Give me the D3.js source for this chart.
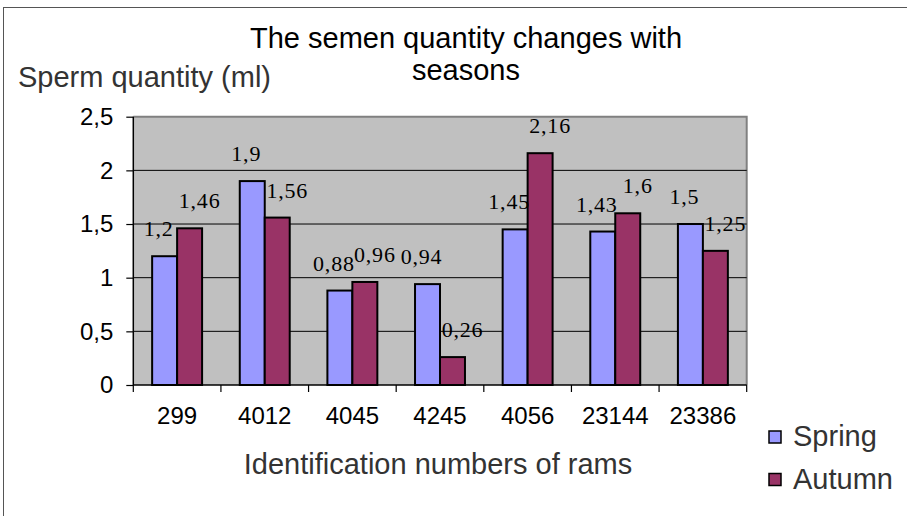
<!DOCTYPE html>
<html>
<head>
<meta charset="utf-8">
<script src="https://cdn.jsdelivr.net/npm/d3@7"></script>
<style>
  html, body { margin: 0; padding: 0; background: #fff; }
  svg { display: block; }
</style>
</head>
<body>
<svg id="chart" width="907" height="516"></svg>
<script>
const categories = ["299", "4012", "4045", "4245", "4056", "23144", "23386"];
const spring = [1.2, 1.9, 0.88, 0.94, 1.45, 1.43, 1.5];
const autumn = [1.46, 1.56, 0.96, 0.26, 2.16, 1.6, 1.25];
const seriesNames = ["Spring", "Autumn"];
const yTicks = [0, 0.5, 1, 1.5, 2, 2.5];
const yTickLabels = ["0", "0,5", "1", "1,5", "2", "2,5"];

(function () {
const colors = { Spring: "#9999ff", Autumn: "#993366" };
const sans = "'Liberation Sans', Arial, sans-serif";
const serif = "'Liberation Serif', 'Times New Roman', serif";

const svg = d3.select("#chart");
const pLeft = 133.3, pRight = 746.7, pTop = 116.7, pBottom = 385;

// outer frame
svg.append("rect").attr("x", 3.5).attr("y", 7.5).attr("width", 920).attr("height", 520)
  .attr("fill", "none").attr("stroke", "#555").attr("stroke-width", 1);

const x0 = d3.scaleBand().domain(categories).range([pLeft, pRight])
  .paddingInner(0.43).paddingOuter(0.215);
const x1 = d3.scaleBand().domain(seriesNames).range([0, x0.bandwidth()]);
const y = d3.scaleLinear().domain([0, 2.5]).range([pBottom, pTop]);

// plot area
svg.append("rect").attr("x", pLeft).attr("y", pTop).attr("width", pRight - pLeft).attr("height", pBottom - pTop)
  .attr("fill", "#c0c0c0");
svg.append("path").attr("d", `M${pLeft},${pTop}H${pRight}V${pBottom}`)
  .attr("fill", "none").attr("stroke", "#808080").attr("stroke-width", 2);

// gridlines
svg.append("g").selectAll("line").data(yTicks.filter(v => v > 0 && v < 2.5)).join("line")
  .attr("x1", pLeft).attr("x2", pRight).attr("y1", d => y(d)).attr("y2", d => y(d))
  .attr("stroke", "#000").attr("stroke-width", 1);

// bars
const rows = categories.map((c, i) => ({ cat: c, values: [
  { s: "Spring", v: spring[i] }, { s: "Autumn", v: autumn[i] } ] }));

const groups = svg.append("g").selectAll("g").data(rows).join("g")
  .attr("transform", d => `translate(${x0(d.cat)},0)`);
groups.selectAll("rect").data(d => d.values).join("rect")
  .attr("x", d => x1(d.s)).attr("width", x1.bandwidth())
  .attr("y", d => y(d.v)).attr("height", d => y(0) - y(d.v))
  .attr("fill", d => colors[d.s]).attr("stroke", "#000").attr("stroke-width", 2);

// data labels
groups.selectAll("text").data(d => d.values).join("text")
  .attr("x", d => x1(d.s) + x1.bandwidth() / 2 + (d.s === "Spring" ? -6 : 10))
  .attr("y", d => y(d.v) - 20)
  .attr("text-anchor", "middle")
  .attr("font-family", serif).attr("font-size", 22).attr("letter-spacing", 0.8)
  .attr("fill", "#000")
  .text(d => String(d.v).replace(".", ","));

// y axis
const yAxis = d3.axisLeft(y).tickValues(yTicks)
  .tickFormat((d, i) => yTickLabels[i]).tickSize(7).tickPadding(13);
const gy = svg.append("g").attr("transform", `translate(${pLeft},0)`).call(yAxis);
gy.select(".domain").attr("stroke", "#000").attr("stroke-width", 1.5).attr("d", `M0,${pTop}V${pBottom}`);
gy.selectAll(".tick line").attr("stroke", "#000").attr("stroke-width", 1.2);
gy.selectAll(".tick text").attr("font-family", sans).attr("font-size", 24).attr("fill", "#000");

// x axis
const xAxis = d3.axisBottom(x0).tickSize(0).tickPadding(22);
const gx = svg.append("g").attr("transform", `translate(0,${pBottom})`).call(xAxis);
gx.select(".domain").attr("stroke", "#000").attr("stroke-width", 1.5).attr("d", `M${pLeft},0H${pRight}`);
gx.selectAll(".tick text").attr("font-family", sans).attr("font-size", 24).attr("fill", "#000");
const step = x0.step();
const boundaries = d3.range(categories.length + 1).map(i => pLeft + i * step);
gx.append("g").selectAll("line").data(boundaries).join("line")
  .attr("x1", d => d).attr("x2", d => d).attr("y1", 0).attr("y2", 7)
  .attr("stroke", "#000").attr("stroke-width", 1.2);

// title
const title = svg.append("text").attr("text-anchor", "middle")
  .attr("font-family", sans).attr("font-size", 29).attr("fill", "#000");
title.append("tspan").attr("x", 466).attr("y", 48).text("The semen quantity changes with");
title.append("tspan").attr("x", 466).attr("y", 80).text("seasons");

// axis titles
svg.append("text").attr("x", 18).attr("y", 87)
  .attr("font-family", sans).attr("font-size", 29).attr("fill", "#333")
  .text("Sperm quantity (ml)");
svg.append("text").attr("x", (pLeft + pRight) / 2 - 2).attr("y", 474).attr("text-anchor", "middle")
  .attr("font-family", sans).attr("font-size", 29).attr("fill", "#333")
  .text("Identification numbers of rams");

// legend
const legend = svg.append("g").selectAll("g").data(seriesNames).join("g")
  .attr("transform", (d, i) => `translate(769,${431 + i * 42.5})`);
legend.append("rect").attr("width", 12).attr("height", 12)
  .attr("fill", d => colors[d]).attr("stroke", "#000").attr("stroke-width", 1.5);
legend.append("text").attr("x", 24).attr("y", 15)
  .attr("font-family", sans).attr("font-size", 29).attr("fill", "#333").text(d => d);
})();
</script>
</body>
</html>
